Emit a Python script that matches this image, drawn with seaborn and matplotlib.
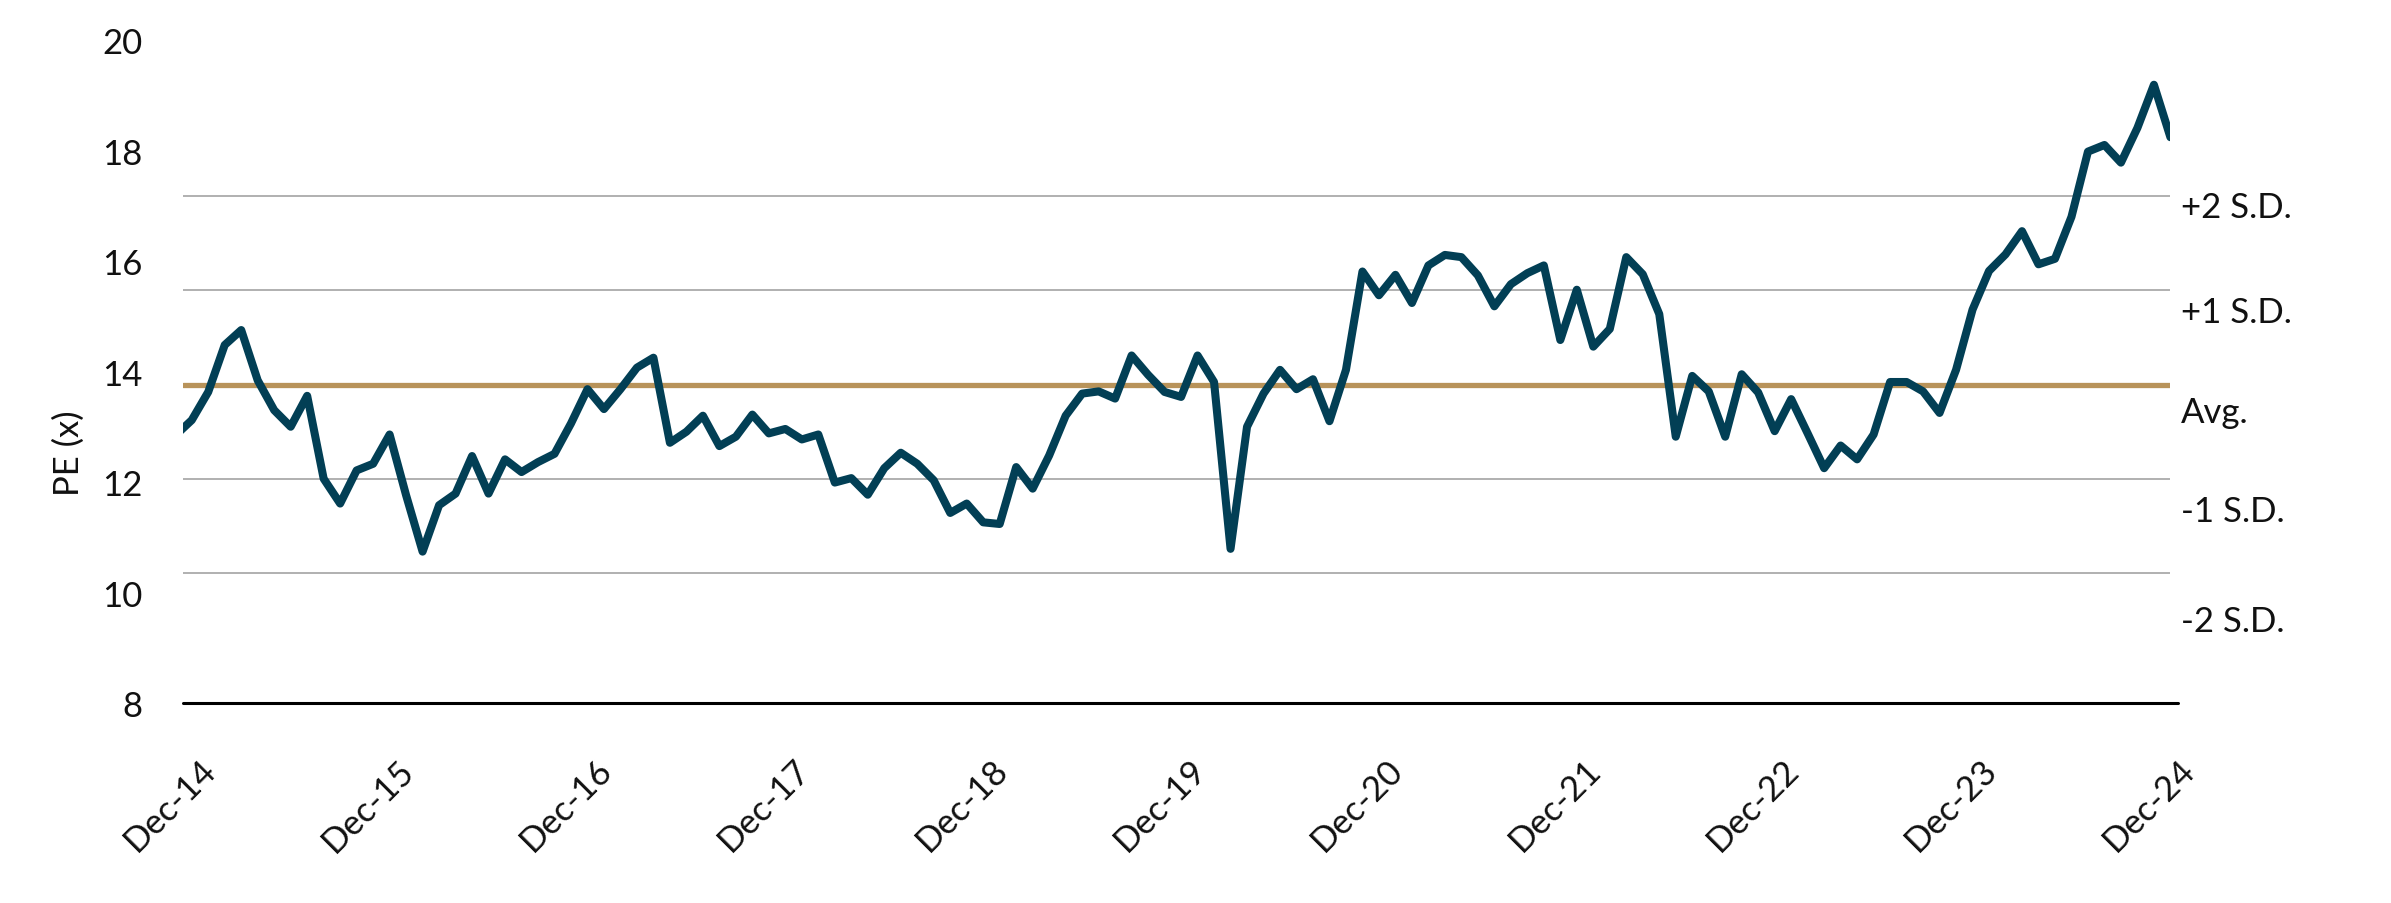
import numpy as np
import pandas as pd
import matplotlib
matplotlib.use("Agg")
import matplotlib.pyplot as plt
import matplotlib.transforms as mtransforms
import seaborn as sns

# ---------------- data ----------------
months = pd.date_range("2014-11-30", "2024-12-31", freq="ME")  # 122 month-ends
pe = [
    12.84, 13.12, 13.63, 14.48, 14.75, 13.84, 13.30, 13.00, 13.56, 12.06,
    11.61, 12.21, 12.33, 12.86, 11.76, 10.74, 11.58, 11.79, 12.47, 11.79,
    12.41, 12.18, 12.36, 12.51, 13.06, 13.68, 13.32, 13.68, 14.07, 14.25,
    12.71, 12.91, 13.20, 12.65, 12.82, 13.22, 12.88, 12.96, 12.77, 12.86,
    11.99, 12.07, 11.77, 12.25, 12.53, 12.33, 12.03, 11.44, 11.61, 11.27,
    11.24, 12.27, 11.88, 12.48, 13.20, 13.60, 13.64, 13.51, 14.29, 13.94,
    13.63, 13.54, 14.29, 13.81, 10.79, 13.00, 13.60, 14.03, 13.68, 13.86,
    13.10, 14.03, 15.81, 15.38, 15.75, 15.24, 15.92, 16.11, 16.07, 15.74,
    15.18, 15.58, 15.78, 15.92, 14.57, 15.48, 14.45, 14.77, 16.07, 15.76,
    15.04, 12.82, 13.92, 13.64, 12.82, 13.95, 13.62, 12.92, 13.50, 12.88,
    12.25, 12.66, 12.41, 12.86, 13.81, 13.81, 13.64, 13.25, 14.03, 15.12,
    15.82, 16.12, 16.54, 15.94, 16.04, 16.80, 17.98, 18.10, 17.78, 18.41,
    19.19, 18.24,
]
avg_pe = 13.76
sd_pe = 1.707
band_mult = [2, 1, -1, -2]
band_labels = ["+2 S.D.", "+1 S.D.", "Avg.", "-1 S.D.", "-2 S.D."]
band_label_y = [16.98, 15.08, 13.27, 11.48, 9.48]
y_ticks = [8, 10, 12, 14, 16, 18, 20]

# ---------------- style ----------------
sns.set_theme(style="white")
plt.rcParams["font.family"] = ["Lato", "DejaVu Sans"]
FS = 25
TXT_C = "#111111"
LINE_C = "#023f55"
AVG_C = "#b8935a"
GRID_C = "#a3a3a3"

fig = plt.figure(figsize=(23.91, 9.04), dpi=100)
ax = fig.add_axes([0.07654, 0.22124, 0.8312, 0.7334])

df = pd.DataFrame({"x": np.arange(len(pe)), "pe": pe, "month": months})

for m in band_mult:
    ax.axhline(avg_pe + m * sd_pe, color=GRID_C, lw=1.2, zorder=1)
ax.axhline(avg_pe, color=AVG_C, lw=3.8, zorder=2, solid_capstyle="round")

sns.lineplot(data=df, x="x", y="pe", ax=ax, color=LINE_C, lw=5.8, zorder=3,
             solid_joinstyle="round", solid_capstyle="round")

# bottom axis line
ax.axhline(8, xmin=0, xmax=1.004, color="black", lw=2.2, clip_on=False, zorder=4)

ax.set_xlim(0.47, len(pe) - 1)
ax.set_ylim(8, 20)
for s in ax.spines.values():
    s.set_visible(False)

ax.set_yticks(y_ticks)
ax.set_yticklabels([str(v) for v in y_ticks], fontsize=FS, color=TXT_C)
ax.tick_params(axis="y", length=0, pad=29)

dec_idx = [i for i, m in enumerate(months) if m.month == 12]
ax.set_xticks(dec_idx)
ax.set_xticklabels([months[i].strftime("%b-%y") for i in dec_idx], fontsize=FS,
                   rotation=45, ha="right", va="top", rotation_mode="anchor",
                   color=TXT_C)
ax.tick_params(axis="x", length=0, pad=36)
offset = mtransforms.ScaledTranslation(0.08, 0, fig.dpi_scale_trans)
for lab in ax.get_xticklabels():
    lab.set_transform(lab.get_transform() + offset)

ax.set_xlabel("")
ax.set_ylabel("PE (x)", fontsize=FS, color=TXT_C, va="center")
ax.yaxis.set_label_coords(-0.0574, 0.379)

for lab, yv in zip(band_labels, band_label_y):
    ax.text(len(pe) - 1 + 0.62, yv, lab, fontsize=FS, color=TXT_C, ha="left",
            va="center", clip_on=False)

ax.grid(False)
fig.savefig("out.png", dpi=100, facecolor="white")
